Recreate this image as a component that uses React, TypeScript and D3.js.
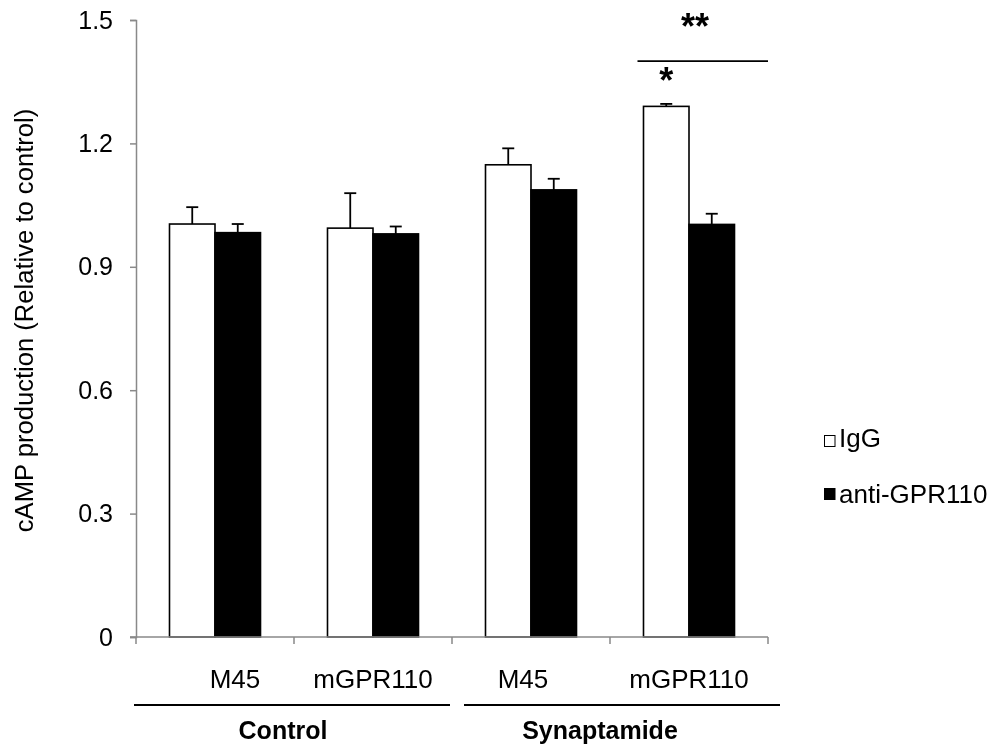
import { useRef, useEffect } from 'react';
import * as d3 from 'd3';

const categories = ['M45', 'mGPR110', 'M45', 'mGPR110'];
const groups = ['Control', 'Synaptamide'];
const series = ['IgG', 'anti-GPR110'];
const igg = [1.004, 0.994, 1.148, 1.29];
const iggErr = [0.041, 0.085, 0.04, 0.006];
const anti = [0.983, 0.98, 1.087, 1.003];
const antiErr = [0.021, 0.018, 0.027, 0.026];
const yTicks = [0, 0.3, 0.6, 0.9, 1.2, 1.5];

export default function App() {
  const svgRef = useRef<SVGSVGElement>(null);

  useEffect(() => {
    if (!svgRef.current) return;
    const width = 997;
    const height = 745;
    const margin = { top: 20, right: 229, bottom: 108, left: 136 };
    const font = 'Arial, "Liberation Sans", sans-serif';

    const svg = d3.select(svgRef.current);
    svg.selectAll('*').remove();
    svg.attr('width', width).attr('height', height).style('font-family', font);

    const x0 = d3.scaleBand<number>()
      .domain(d3.range(categories.length))
      .range([margin.left, width - margin.right]);
    const bw = x0.bandwidth();
    const x1 = d3.scaleBand<string>()
      .domain(series)
      .range([bw * 0.212, bw * 0.788]);

    const y = d3.scaleLinear()
      .domain([0, 1.5])
      .range([height - margin.bottom, margin.top]);

    const rows = categories.map((c, i) => ([
      { i, s: series[0], v: igg[i], e: iggErr[i], fill: '#ffffff' },
      { i, s: series[1], v: anti[i], e: antiErr[i], fill: '#000000' },
    ])).flat();

    const axisColor = '#898989';

    // Y axis
    svg.append('g')
      .attr('transform', `translate(${margin.left},0)`)
      .call(d3.axisLeft(y).tickValues(yTicks).tickSize(6).tickPadding(17)
        .tickFormat(d => (d === 0 ? '0' : d3.format('.1f')(d as number))))
      .call(g => g.select('.domain').attr('stroke', axisColor).attr('stroke-width', 1.5))
      .call(g => g.selectAll('.tick line').attr('stroke', axisColor).attr('stroke-width', 1.5))
      .call(g => g.selectAll('.tick text').attr('fill', '#000').attr('font-size', '25px').attr('font-family', font));

    // Error bars (upper only)
    const err = svg.append('g');
    rows.forEach(d => {
      const cx = x0(d.i)! + x1(d.s)! + x1.bandwidth() / 2;
      err.append('line')
        .attr('x1', cx).attr('x2', cx)
        .attr('y1', y(d.v)).attr('y2', y(d.v + d.e))
        .attr('stroke', '#000').attr('stroke-width', 1.8);
      err.append('line')
        .attr('x1', cx - 6).attr('x2', cx + 6)
        .attr('y1', y(d.v + d.e)).attr('y2', y(d.v + d.e))
        .attr('stroke', '#000').attr('stroke-width', 1.8);
    });

    // Bars
    svg.append('g')
      .selectAll('rect')
      .data(rows)
      .join('rect')
      .attr('x', d => x0(d.i)! + x1(d.s)!)
      .attr('y', d => y(d.v))
      .attr('width', x1.bandwidth())
      .attr('height', d => y(0) - y(d.v))
      .attr('fill', d => d.fill)
      .attr('stroke', '#000')
      .attr('stroke-width', 1.6);

    // X axis
    const xg = svg.append('g');
    xg.append('line')
      .attr('x1', margin.left - 6).attr('x2', width - margin.right)
      .attr('y1', y(0)).attr('y2', y(0))
      .attr('stroke', axisColor).attr('stroke-width', 1.5);
    d3.range(categories.length + 1).forEach(k => {
      const tx = margin.left + k * bw;
      xg.append('line')
        .attr('x1', tx).attr('x2', tx)
        .attr('y1', y(0)).attr('y2', y(0) + 7)
        .attr('stroke', axisColor).attr('stroke-width', 1.5);
    });

    // Category labels (Excel placed them slightly off-centre)
    const nudge = [20, 0, -8, 0];
    svg.append('g')
      .selectAll('text')
      .data(categories)
      .join('text')
      .attr('x', (d, i) => x0(i)! + bw / 2 + nudge[i])
      .attr('y', y(0) + 51)
      .attr('text-anchor', 'middle')
      .attr('font-size', '26px')
      .text(d => d);

    // Group brackets
    groups.forEach((g, gi) => {
      const xs = x0(gi * 2)!;
      const xe = x0(gi * 2 + 1)! + bw;
      svg.append('line')
        .attr('x1', xs - 2 + gi * 14).attr('x2', xe - 2 + gi * 14)
        .attr('y1', y(0) + 68).attr('y2', y(0) + 68)
        .attr('stroke', '#000').attr('stroke-width', 2);
      svg.append('text')
        .attr('x', (xs + xe) / 2 - 11 + gi * 1)
        .attr('y', y(0) + 102)
        .attr('text-anchor', 'middle')
        .attr('font-size', '25px')
        .attr('font-weight', 'bold')
        .text(g);
    });

    // Significance
    const g4 = x0(3)!;
    const iggX = g4 + x1(series[0])! + x1.bandwidth() / 2;
    svg.append('text')
      .attr('x', iggX)
      .attr('y', y(igg[3] + iggErr[3]) - 11)
      .attr('text-anchor', 'middle')
      .attr('font-size', '36px')
      .attr('font-weight', 'bold')
      .text('*');
    svg.append('line')
      .attr('x1', g4 + x1(series[0])! - 6).attr('x2', g4 + bw)
      .attr('y1', y(1.4)).attr('y2', y(1.4))
      .attr('stroke', '#000').attr('stroke-width', 1.8);
    svg.append('text')
      .attr('x', g4 + bw / 2 + 6)
      .attr('y', y(1.4) - 22)
      .attr('text-anchor', 'middle')
      .attr('font-size', '36px')
      .attr('font-weight', 'bold')
      .text('**');

    // Y label
    svg.append('text')
      .attr('transform', `translate(33,${(y(0) + y(1.5)) / 2 - 8}) rotate(-90)`)
      .attr('text-anchor', 'middle')
      .attr('font-size', '25.6px')
      .text('cAMP production (Relative to control)');

    // Legend
    const leg = svg.append('g').attr('transform', 'translate(824,435)');
    series.forEach((s, i) => {
      leg.append('rect')
        .attr('x', 0.5).attr('y', i * 53 + 0.5)
        .attr('width', 10.5).attr('height', 11)
        .attr('fill', i === 0 ? '#fff' : '#000')
        .attr('stroke', '#000').attr('stroke-width', 1);
      leg.append('text')
        .attr('x', 15).attr('y', i * 56 + 12)
        .attr('font-size', '26px')
        .text(s);
    });
  }, []);

  return (
    <div style={{ position: 'fixed', left: 0, top: 0 }}>
      <svg ref={svgRef} style={{ display: 'block' }} />
    </div>
  );
}
